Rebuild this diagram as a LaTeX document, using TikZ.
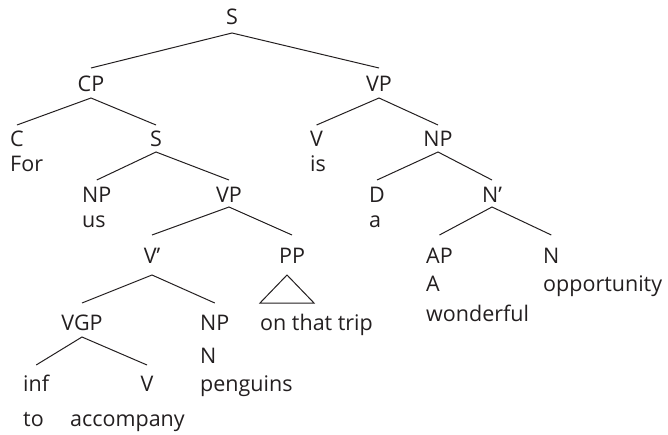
\documentclass[tikz,border=0pt]{standalone}
\usepackage{fontspec}
\setmainfont{Open Sans}
\definecolor{ink}{HTML}{231F20}
\begin{document}
\begin{tikzpicture}[x=1pt,y=-1pt,
  lab/.style={inner sep=0pt,anchor=base,text=ink,font=\fontsize{21.5}{25}\selectfont},
  labw/.style={lab,anchor=base west},
  br/.style={draw=ink,line width=1pt}]
\useasboundingbox (0,0) rectangle (668,435);
% nodes
\node[lab] (S0) at (232,25) {S};
\node[lab] (CP) at (91,92) {CP};
\node[lab] (VP0) at (379,92) {VP};
\node[labw] (C) at (10,147) {C};
\node[labw] (For) at (10,172) {For};
\node[lab] (S1) at (156,147) {S};
\node[labw] (V1) at (310,147) {V};
\node[labw] (is) at (310,172) {is};
\node[lab] (NP1) at (438,147) {NP};
\node[labw] (NP2) at (82,203) {NP};
\node[labw] (us) at (82,228) {us};
\node[lab] (VP2) at (229,203) {VP};
\node[labw] (D) at (369,203) {D};
\node[labw] (a) at (369,228) {a};
\node[lab] (Nb) at (492,203) {N’};
\node[lab] (Vb) at (152,263) {V’};
\node[lab] (PP) at (292,263) {PP};
\node[labw] (AP) at (426,263) {AP};
\node[labw] (A) at (426,291) {A};
\node[labw] (wonderful) at (426,321) {wonderful};
\node[labw] (N) at (543,263) {N};
\node[labw] (opp) at (543,291) {opportunity};
\node[lab] (VGP) at (82,330) {VGP};
\node[labw] (NP3) at (200,330) {NP};
\node[labw] (N3) at (200,363) {N};
\node[labw] (penguins) at (200,391) {penguins};
\node[labw] (trip) at (260,330) {on that trip};
\node[labw] (inf) at (23,391) {inf};
\node[lab] (V2) at (147,391) {V};
\node[labw] (to) at (23,426) {to};
\node[labw] (accompany) at (70,426) {accompany};
% branches
\draw[br] ([yshift=24pt]CP.base) -- ([yshift=-8pt]S0.base) -- ([yshift=24pt]VP0.base);
\draw[br] ([yshift=22pt]C.base) -- ([yshift=-6pt]CP.base) -- ([yshift=22pt]S1.base);
\draw[br] ([yshift=22pt]V1.base) -- ([yshift=-6pt]VP0.base) -- ([yshift=22pt]NP1.base);
\draw[br] ([yshift=23pt]NP2.base) -- ([yshift=-5pt]S1.base) -- ([yshift=23pt]VP2.base);
\draw[br] ([yshift=23pt]D.base) -- ([yshift=-5pt]NP1.base) -- ([yshift=23pt]Nb.base);
\draw[br] ([yshift=28pt]Vb.base) -- ([yshift=-4pt]VP2.base) -- ([yshift=28pt]PP.base);
\draw[br] ([yshift=28pt]AP.base) -- ([yshift=-4pt]Nb.base) -- ([yshift=28pt]N.base);
\draw[br] ([yshift=27pt]VGP.base) -- ([yshift=-12pt]Vb.base) -- ([yshift=27pt]NP3.base);
\draw[br] ([yshift=26pt]inf.base) -- ([yshift=-7pt]VGP.base) -- ([yshift=26pt]V2.base);
\draw[br] ([yshift=-12pt,xshift=-5pt]PP.base) -- ++(-27,28) -- ++(54,0) -- cycle;
\end{tikzpicture}
\end{document}
